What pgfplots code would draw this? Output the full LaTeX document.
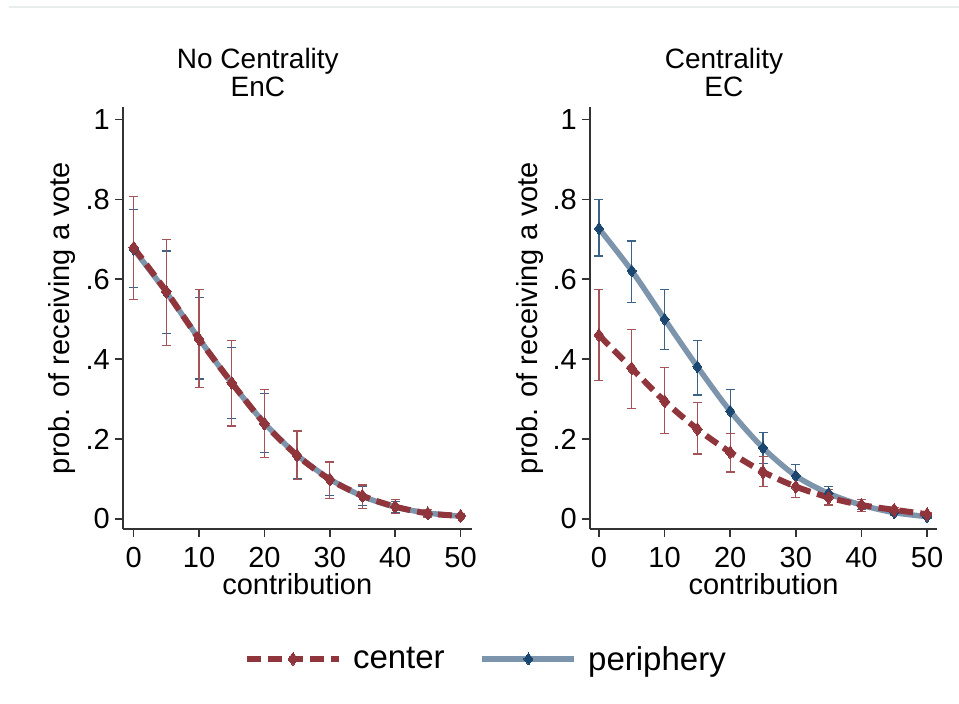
\documentclass[border=0pt]{standalone}
\usepackage{pgfplots}
\pgfplotsset{compat=1.18}
\usepackage{pgfplotstable}
\usepackage{fontspec}
\setmainfont{Liberation Sans}

\definecolor{cmaroon}{RGB}{144,53,59}
\definecolor{cnavy}{RGB}{26,71,111}
\definecolor{plinecol}{RGB}{125,149,172}
\definecolor{topline}{RGB}{232,238,236}

% x  mean  lo  hi
\pgfplotstableread{
x y lo hi
0 .679 .550 .807
5 .569 .435 .700
10 .450 .329 .575
15 .341 .233 .447
20 .239 .154 .324
25 .159 .098 .220
30 .099 .052 .143
35 .058 .027 .085
40 .031 .014 .048
45 .014 .004 .024
50 .008 .002 .013
}\leftcenter
\pgfplotstableread{
x y lo hi
0 .675 .579 .775
5 .567 .465 .671
10 .451 .350 .554
15 .340 .252 .429
20 .240 .167 .314
25 .160 .102 .219
30 .100 .058 .141
35 .057 .033 .081
40 .030 .016 .043
45 .015 .007 .023
50 .007 .003 .011
}\leftperiph
\pgfplotstableread{
x y lo hi
0 .460 .346 .575
5 .377 .277 .475
10 .295 .214 .379
15 .225 .163 .291
20 .167 .118 .214
25 .118 .081 .156
30 .081 .053 .110
35 .054 .035 .073
40 .035 .018 .048
45 .023 .014 .029
50 .012 .006 .017
}\rightcenter
\pgfplotstableread{
x y lo hi
0 .727 .658 .800
5 .621 .542 .696
10 .500 .425 .575
15 .381 .310 .446
20 .270 .214 .324
25 .178 .139 .217
30 .108 .081 .137
35 .064 .048 .081
40 .035 .023 .048
45 .016 .009 .023
50 .006 .002 .010
}\rightperiph

\pgfplotsset{
  panel/.style={
    scale only axis, height=422pt,
    ymin=-0.025, ymax=1.031,
    axis lines=left, axis line style={-, line width=1.5pt, black!80},
    clip=false,
    xtick={0,10,...,50}, xticklabels={0,10,20,30,40,50},
    ytick={0,0.2,0.4,0.6,0.8,1}, yticklabels={0,.2,.4,.6,.8,1},
    tick align=outside, major tick length=8pt,
    every tick/.style={line width=1.5pt, black!80},
    /pgf/number format/assume math mode=true,
    tick label style={font=\fontsize{29}{32}\selectfont, inner sep=0pt},
    xticklabel style={yshift=-10pt},
    yticklabel style={xshift=-5pt},
    xlabel={contribution},
    ylabel={prob. of receiving a vote},
    label style={font=\fontsize{29}{32}\selectfont, inner sep=0pt},
    xlabel style={at={(axis description cs:0.5,0)}, anchor=base, yshift=-66pt},
    title style={font=\fontsize{28}{27.5}\selectfont, align=center, anchor=south, inner sep=0pt, yshift=4.5pt},
  },
  cline/.style={cmaroon, line width=6pt, dash pattern=on 14pt off 7pt, smooth, mark=diamond*, mark size=6.5pt, mark options={solid, fill=cmaroon, draw=cmaroon, line width=0pt}},
  pline/.style={plinecol, line width=5.5pt, solid, smooth, mark=diamond*, mark size=6pt, mark options={fill=cnavy, draw=cnavy, line width=0pt}},
  cbars/.style={forget plot, only marks, mark=none,
    error bars/.cd, y dir=both, y explicit,
    error bar style={line width=1.3pt, cmaroon!85!white, solid},
    error mark options={rotate=90, mark size=4.5pt, line width=1.3pt, cmaroon!85!white}},
  pbars/.style={forget plot, only marks, mark=none,
    error bars/.cd, y dir=both, y explicit,
    error bar style={line width=1.3pt, cnavy!85!white, solid},
    error mark options={rotate=90, mark size=4.5pt, line width=1.3pt, cnavy!85!white}},
}

\begin{document}
\begin{tikzpicture}
\path[use as bounding box] (0,0) rectangle (959pt,704pt);
\draw[topline, line width=1.5pt] (9pt,697pt) -- (959pt,697pt);

\begin{axis}[panel, at={(123pt,175pt)}, anchor=south west,
  width=348.5pt, xmin=-1.64, xmax=51.68,
  title={No Centrality\\EnC},
  title style={at={(axis description cs:0.387,1)}},
  ylabel style={at={(axis description cs:-0.175,0.5)}, anchor=center},
]
\addplot[pbars] table[x=x, y=y, y error plus expr=\thisrow{hi}-\thisrow{y}, y error minus expr=\thisrow{y}-\thisrow{lo}] {\leftperiph};
\addplot[cbars] table[x=x, y=y, y error plus expr=\thisrow{hi}-\thisrow{y}, y error minus expr=\thisrow{y}-\thisrow{lo}] {\leftcenter};
\addplot[pline, forget plot] table[x=x, y=y] {\leftperiph};
\addplot[cline, forget plot] table[x=x, y=y] {\leftcenter};
\end{axis}

\begin{axis}[panel, at={(590pt,175pt)}, anchor=south west,
  width=347pt, xmin=-1.37, xmax=51.52,
  title={Centrality\\EC},
  title style={at={(axis description cs:0.386,1)}},
  ylabel style={at={(axis description cs:-0.173,0.5)}, anchor=center},
  legend columns=2,
  legend style={at={(axis description cs:-0.30,-0.308)}, anchor=center,
    draw=none, fill=none, inner sep=0pt,
    font=\fontsize{33}{36}\selectfont,
    /tikz/every odd column/.append style={column sep=9pt},
    /tikz/every even column/.append style={column sep=33pt},
    cells={anchor=west}},
  legend image code/.code={\draw[mark repeat=2, mark phase=2, #1] plot coordinates {(0pt,0pt) (46pt,0pt) (92pt,0pt)};},
]
\addlegendimage{cline}
\addlegendentry{center}
\addlegendimage{pline}
\addlegendentry{periphery}
\addplot[pbars] table[x=x, y=y, y error plus expr=\thisrow{hi}-\thisrow{y}, y error minus expr=\thisrow{y}-\thisrow{lo}] {\rightperiph};
\addplot[cbars] table[x=x, y=y, y error plus expr=\thisrow{hi}-\thisrow{y}, y error minus expr=\thisrow{y}-\thisrow{lo}] {\rightcenter};
\addplot[pline, forget plot] table[x=x, y=y] {\rightperiph};
\addplot[cline, forget plot] table[x=x, y=y] {\rightcenter};
\end{axis}
\end{tikzpicture}
\end{document}
